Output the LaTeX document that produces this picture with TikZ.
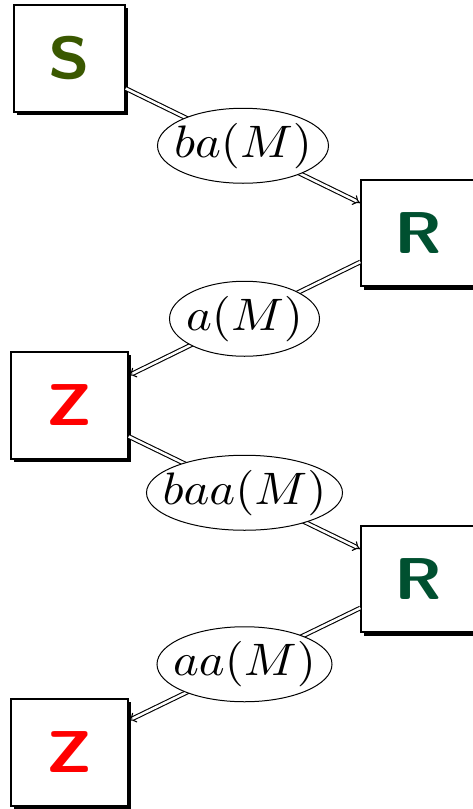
\documentclass[tikz,border=0pt]{standalone}
\usetikzlibrary{arrows.meta}
\definecolor{sgreen}{RGB}{58,88,0}
\definecolor{rgreen}{RGB}{0,80,48}
\newcommand{\boxletter}[1]{\scalebox{6.8}[5.9]{\sffamily\bfseries #1}}
\newcommand{\labtext}[1]{\scalebox{4.9}[4.55]{$#1$}}
\tikzset{
  box/.style={draw=black, line width=1.4pt, fill=white, inner sep=0pt},
  shadowbox/.style={fill=black},
  link/.style={double, double distance=2.5pt, line width=1.1pt, -{Implies}},
  lab/.style={inner sep=0pt},
  labring/.style={draw=black, line width=1pt, fill=white}
}
\begin{document}
\begin{tikzpicture}[x=1pt,y=-1pt]
\useasboundingbox (0,0) rectangle (472,809);
% shadows
\fill[shadowbox] (17,8) rectangle (128,115);
\fill[shadowbox] (364,183) rectangle (478,290);
\fill[shadowbox] (14,355) rectangle (131,462);
\fill[shadowbox] (364,529) rectangle (478,636);
\fill[shadowbox] (14,702) rectangle (131,809);
% boxes
\node[box, minimum width=111pt, minimum height=107pt, text=sgreen] (S) at (69.5,58.5) {\boxletter{S}};
\node[box, minimum width=114pt, minimum height=106pt, text=rgreen] (R1) at (418,233) {\boxletter{R}};
\node[box, minimum width=117pt, minimum height=107pt, text=red] (Z1) at (69.5,405.5) {\boxletter{Z}};
\node[box, minimum width=114pt, minimum height=106pt, text=rgreen] (R2) at (418,579) {\boxletter{R}};
\node[box, minimum width=117pt, minimum height=107pt, text=red] (Z2) at (69.5,752.5) {\boxletter{Z}};
% links
\draw[link] ([yshift=-30pt]S.east) -- coordinate[midway] (m1) ([yshift=30pt]R1.west);
\draw[link] ([yshift=-29pt]R1.west) -- coordinate[midway] (m2) ([yshift=30pt]Z1.east);
\draw[link] ([yshift=-31pt]Z1.east) -- coordinate[midway] (m3) ([yshift=30pt]R2.west);
\draw[link] ([yshift=-29pt]R2.west) -- coordinate[midway] (m4) ([yshift=32pt]Z2.east);
% labels
\filldraw[labring] (m1) ellipse [x radius=85.5, y radius=37.5];
\node[lab] (l1) at (m1) {\labtext{ba(M)}};
\filldraw[labring] (m2) ellipse [x radius=75, y radius=37.5];
\node[lab] (l2) at (m2) {\labtext{a(M)}};
\filldraw[labring] (m3) ellipse [x radius=98, y radius=37.5];
\node[lab] (l3) at (m3) {\labtext{baa(M)}};
\filldraw[labring] (m4) ellipse [x radius=87.5, y radius=37.5];
\node[lab] (l4) at (m4) {\labtext{aa(M)}};
\end{tikzpicture}
\end{document}
